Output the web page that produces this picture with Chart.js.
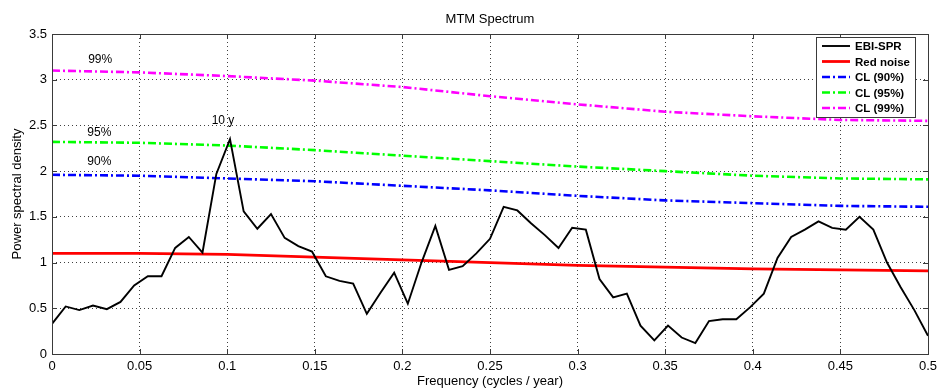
<!DOCTYPE html>
<html>
<head>
<meta charset="utf-8">
<script src="https://cdn.jsdelivr.net/npm/chart.js@4.4.0/dist/chart.umd.min.js"></script>
<style>
  html, body { margin: 0; padding: 0; background: #fff; }
  #wrap { width: 939px; height: 389px; position: relative; }
</style>
</head>
<body>
<div id="wrap"><canvas id="myChart" width="939" height="389"></canvas></div>
<script>
// spectrum frequencies (cycles / year)
const freq = [0, 0.0078, 0.0156, 0.0234, 0.0313, 0.0391, 0.0469, 0.0547, 0.0625, 0.0703,
  0.0781, 0.0859, 0.0938, 0.1016, 0.1094, 0.1172, 0.125, 0.1328, 0.1406, 0.1484,
  0.1563, 0.1641, 0.1719, 0.1797, 0.1875, 0.1953, 0.2031, 0.2109, 0.2188, 0.2266,
  0.2344, 0.2422, 0.25, 0.2578, 0.2656, 0.2734, 0.2813, 0.2891, 0.2969, 0.3047,
  0.3125, 0.3203, 0.3281, 0.3359, 0.3438, 0.3516, 0.3594, 0.3672, 0.375, 0.3828,
  0.3906, 0.3984, 0.4063, 0.4141, 0.4219, 0.4297, 0.4375, 0.4453, 0.4531, 0.4609,
  0.4688, 0.4766, 0.4844, 0.4922, 0.5];
const ebiSpr = [0.33, 0.52, 0.48, 0.53, 0.49, 0.57, 0.75, 0.85, 0.85, 1.16,
  1.28, 1.11, 1.97, 2.35, 1.56, 1.37, 1.53, 1.27, 1.18, 1.12,
  0.85, 0.80, 0.77, 0.44, 0.67, 0.89, 0.55, 1.00, 1.40, 0.92,
  0.96, 1.10, 1.26, 1.61, 1.57, 1.43, 1.30, 1.16, 1.38, 1.36,
  0.82, 0.62, 0.66, 0.31, 0.15, 0.31, 0.18, 0.12, 0.36, 0.38,
  0.38, 0.51, 0.66, 1.05, 1.28, 1.36, 1.45, 1.38, 1.36, 1.50,
  1.36, 1.00, 0.73, 0.48, 0.20];

// red noise and confidence levels
const clFreq = [0, 0.05, 0.1, 0.15, 0.2, 0.25, 0.3, 0.35, 0.4, 0.45, 0.5];
const redNoise = [1.10, 1.10, 1.09, 1.06, 1.03, 1.00, 0.97, 0.95, 0.93, 0.92, 0.91];
const cl90 = [1.96, 1.95, 1.92, 1.89, 1.84, 1.79, 1.73, 1.68, 1.65, 1.62, 1.61];
const cl95 = [2.32, 2.31, 2.28, 2.23, 2.17, 2.11, 2.05, 2.00, 1.95, 1.92, 1.91];
const cl99 = [3.10, 3.08, 3.04, 2.99, 2.92, 2.82, 2.73, 2.65, 2.60, 2.56, 2.55];

const seriesNames = ['EBI-SPR', 'Red noise', 'CL (90%)', 'CL (95%)', 'CL (99%)'];

// text labels placed at data coordinates
const notes = [
  { text: '99%', x: 0.0275, y: 3.22 },
  { text: '95%', x: 0.027, y: 2.42 },
  { text: '90%', x: 0.027, y: 2.10 },
  { text: '10 y', x: 0.0976, y: 2.55 }
];

const FONT = '"Liberation Sans", Arial, sans-serif';
const dashDot = [8, 3, 2, 3];

function pts(xs, ys) {
  return xs.map((x, i) => ({ x: x, y: ys[i] }));
}

// plain number labels, no trailing zeros
function plain(v) {
  return String(parseFloat(v.toFixed(3)));
}

// frame, title, axis titles, notes and legend box
const matlabStyle = {
  id: 'matlabStyle',
  afterDraw(chart) {
    const ctx = chart.ctx;
    const a = chart.chartArea;
    const xs = chart.scales.x, ys = chart.scales.y;
    ctx.save();
    ctx.strokeStyle = '#3a3a3a';
    ctx.lineWidth = 1;
    ctx.setLineDash([]);
    ctx.strokeRect(Math.round(a.left) + 0.5, Math.round(a.top) + 0.5,
      Math.round(a.right - a.left), Math.round(a.bottom - a.top));

    // small inward tick marks
    ctx.beginPath();
    xs.ticks.forEach(t => {
      const px = Math.round(xs.getPixelForValue(t.value)) + 0.5;
      ctx.moveTo(px, a.bottom); ctx.lineTo(px, a.bottom - 5);
      ctx.moveTo(px, a.top); ctx.lineTo(px, a.top + 5);
    });
    ys.ticks.forEach(t => {
      const py = Math.round(ys.getPixelForValue(t.value)) + 0.5;
      ctx.moveTo(a.left, py); ctx.lineTo(a.left + 5, py);
      ctx.moveTo(a.right, py); ctx.lineTo(a.right - 5, py);
    });
    ctx.stroke();

    ctx.fillStyle = '#000';
    ctx.font = '13px ' + FONT;
    ctx.textAlign = 'center';
    ctx.textBaseline = 'middle';
    ctx.fillText('MTM Spectrum', (a.left + a.right) / 2, 19);
    ctx.fillText('Frequency (cycles / year)', (a.left + a.right) / 2, 381);
    ctx.save();
    ctx.translate(17, (a.top + a.bottom) / 2);
    ctx.rotate(-Math.PI / 2);
    ctx.fillText('Power spectral density', 0, 0);
    ctx.restore();

    ctx.font = '12px ' + FONT;
    notes.forEach(n => {
      ctx.fillText(n.text, xs.getPixelForValue(n.x), ys.getPixelForValue(n.y));
    });

    // legend
    const bx = 816, by = 37, bw = 99, bh = 80;
    ctx.fillStyle = '#fff';
    ctx.fillRect(bx, by, bw, bh);
    ctx.strokeStyle = '#3a3a3a';
    ctx.strokeRect(bx + 0.5, by + 0.5, bw, bh);
    ctx.font = 'bold 11.5px ' + FONT;
    ctx.textAlign = 'left';
    chart.data.datasets.forEach((ds, i) => {
      const y = 46 + i * 15.5;
      ctx.strokeStyle = ds.borderColor;
      ctx.lineWidth = ds.borderWidth;
      ctx.setLineDash(ds.borderDash || []);
      ctx.beginPath();
      ctx.moveTo(822, y); ctx.lineTo(850, y);
      ctx.stroke();
      ctx.fillStyle = '#000';
      ctx.fillText(ds.label, 855, y + 1);
    });
    ctx.restore();
  }
};

document.addEventListener('DOMContentLoaded', function() {
  const ctx = document.getElementById('myChart').getContext('2d');
  const lineDefaults = { fill: false, pointRadius: 0, tension: 0, borderCapStyle: 'butt' };
  new Chart(ctx, {
    type: 'line',
    data: {
      datasets: [
        Object.assign({ label: seriesNames[0], data: pts(freq, ebiSpr), borderColor: '#000000', borderWidth: 1.9 }, lineDefaults),
        Object.assign({ label: seriesNames[1], data: pts(clFreq, redNoise), borderColor: '#ff0000', borderWidth: 2.8 }, lineDefaults),
        Object.assign({ label: seriesNames[2], data: pts(clFreq, cl90), borderColor: '#0000ff', borderWidth: 2.6, borderDash: dashDot }, lineDefaults),
        Object.assign({ label: seriesNames[3], data: pts(clFreq, cl95), borderColor: '#00ff00', borderWidth: 2.6, borderDash: dashDot }, lineDefaults),
        Object.assign({ label: seriesNames[4], data: pts(clFreq, cl99), borderColor: '#ff00ff', borderWidth: 2.6, borderDash: dashDot }, lineDefaults)
      ]
    },
    options: {
      responsive: false,
      animation: false,
      layout: { padding: { top: 34, right: 0, left: 0, bottom: 0 } },
      scales: {
        x: {
          type: 'linear',
          min: 0, max: 0.5,
          ticks: { stepSize: 0.05, color: '#000', font: { family: FONT, size: 13 }, padding: 5, maxRotation: 0, callback: plain },
          grid: { color: 'rgba(0,0,0,0.75)', lineWidth: 1, drawTicks: false },
          border: { display: false, dash: [1, 3] },
          afterFit(scale) { scale.height = 35; scale.paddingRight = 11; }
        },
        y: {
          min: 0, max: 3.5,
          ticks: { stepSize: 0.5, color: '#000', font: { family: FONT, size: 13 }, padding: 5, callback: plain },
          grid: { color: 'rgba(0,0,0,0.75)', lineWidth: 1, drawTicks: false },
          border: { display: false, dash: [1, 3] },
          afterFit(scale) { scale.width = 52; }
        }
      },
      plugins: {
        legend: { display: false },
        tooltip: { enabled: false }
      }
    },
    plugins: [matlabStyle]
  });
});
</script>
</body>
</html>
